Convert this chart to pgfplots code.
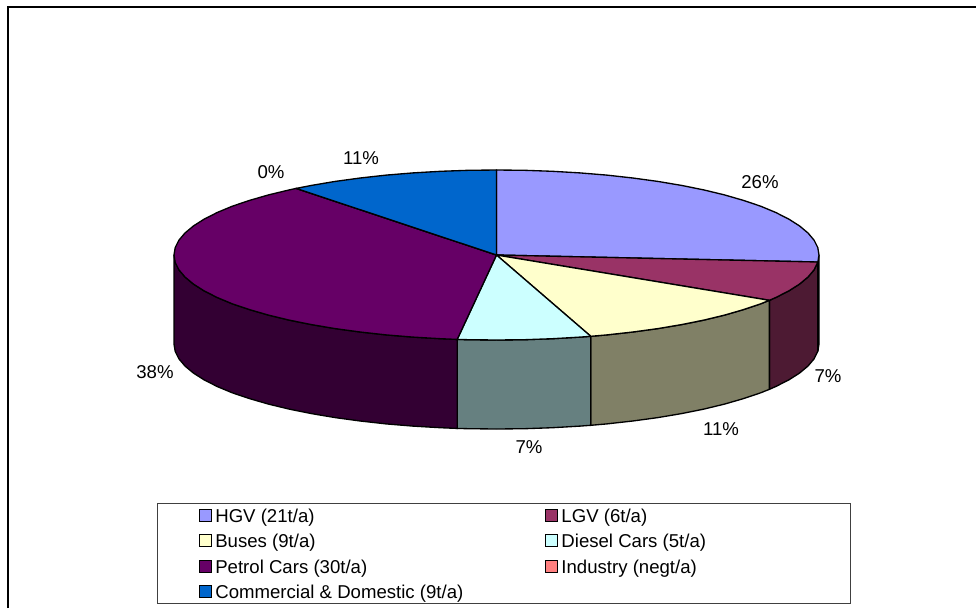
\documentclass[border=0pt]{standalone}
\usepackage{fontspec}
\setmainfont{Liberation Sans}
\usepackage{pgfplots}
\pgfplotsset{compat=1.18}
\definecolor{cHGV}{HTML}{9999FF}
\definecolor{cLGV}{HTML}{993366}
\definecolor{cBus}{HTML}{FFFFCC}
\definecolor{cDie}{HTML}{CCFFFF}
\definecolor{cPet}{HTML}{660066}
\definecolor{cInd}{HTML}{FF8080}
\definecolor{cCom}{HTML}{0066CC}
\definecolor{dHGV}{HTML}{4D4D80}
\definecolor{dLGV}{HTML}{4D1A33}
\definecolor{dBus}{HTML}{808066}
\definecolor{dDie}{HTML}{668080}
\definecolor{dPet}{HTML}{330033}
\newcommand{\lab}{\fontsize{13.95}{16}\selectfont}
\begin{document}
\begin{tikzpicture}
\useasboundingbox (0,0) rectangle (732pt,456pt);
\begin{axis}[
  at={(0,0)}, anchor=south west,
  scale only axis, width=732pt, height=456pt,
  xmin=0, xmax=976, ymin=0, ymax=608, y dir=reverse,
  hide axis, clip=false,
  every axis plot/.append style={line width=1pt, draw=black, mark=none},
  legend columns=2,
  legend cell align=left,
  legend image code/.code={\draw[#1, line width=0.8pt] (0pt,-2.75pt) rectangle (9pt,6.25pt);},
  legend style={
    at={(199/976,1-509/608)}, anchor=north west,
    draw=none, fill=none, inner sep=0pt, row sep=5.7pt,
    font=\lab,
    nodes={inner xsep=2.25pt, inner ysep=0pt, text height=10pt, text depth=3pt},
    /tikz/every even column/.append style={column sep=59.25pt},
  },
]
% frame and legend box
\addplot[forget plot, line width=1.5pt] coordinates {(7.5,608)(7.5,7)(976,7)};
\addplot[forget plot, line width=0.7pt, draw=black!75] coordinates {(157,503)(850,503)(850,603)(157,603)(157,503)};
% side walls
\addplot[forget plot, fill=dHGV] coordinates {(819,255)(817.9,262)(817.9,351)(819,344)(819,255)};
\addplot[forget plot, fill=dLGV] coordinates {(817.9,262)(814.1,269.8)(808,277)(799.5,284.1)(788.8,290.9)(775.8,297.5)(769.4,300.3)(769.4,389.3)(775.8,386.5)(788.8,379.9)(799.5,373.1)(808,366)(814.1,358.8)(817.9,351)(817.9,262)};
\addplot[forget plot, fill=dBus] coordinates {(769.4,300.3)(760.7,303.8)(743.5,309.6)(724.5,315.1)(703.8,320.1)(681.5,324.6)(657.8,328.6)(632.8,332)(606.8,334.9)(590.8,336.3)(590.8,425.3)(606.8,423.9)(632.8,421)(657.8,417.6)(681.5,413.6)(703.8,409.1)(724.5,404.1)(743.5,398.6)(760.7,392.8)(769.4,389.3)(769.4,300.3)};
\addplot[forget plot, fill=dDie] coordinates {(590.8,336.3)(580,337.1)(552.5,338.7)(524.6,339.7)(496.5,340)(468.4,339.7)(457.2,339.4)(457.2,428.4)(468.4,428.7)(496.5,429)(524.6,428.7)(552.5,427.7)(580,426.1)(590.8,425.3)(590.8,336.3)};
\addplot[forget plot, fill=dPet] coordinates {(457.2,339.4)(440.5,338.7)(413,337.1)(386.2,334.9)(360.2,332)(335.2,328.6)(311.5,324.6)(289.2,320.1)(268.5,315.1)(249.5,309.6)(232.3,303.8)(217.2,297.5)(204.2,290.9)(193.5,284.1)(185,277)(178.9,269.8)(175.2,262.4)(174,255)(174,344)(175.2,351.4)(178.9,358.8)(185,366)(193.5,373.1)(204.2,379.9)(217.2,386.5)(232.3,392.8)(249.5,398.6)(268.5,404.1)(289.2,409.1)(311.5,413.6)(335.2,417.6)(360.2,421)(386.2,423.9)(413,426.1)(440.5,427.7)(457.2,428.4)(457.2,339.4)};
% top slices
\addplot[fill=cHGV] coordinates {(496.5,255)(496.5,170)(524.6,170.3)(552.5,171.3)(580,172.9)(606.8,175.1)(632.8,178)(657.8,181.4)(681.5,185.4)(703.8,189.9)(724.5,194.9)(743.5,200.4)(760.7,206.2)(775.8,212.5)(788.8,219.1)(799.5,225.9)(808,233)(814.1,240.2)(817.8,247.6)(819,255)(817.9,262)(496.5,255)};
\addlegendentry{HGV (21t/a)}
\addplot[fill=cLGV] coordinates {(496.5,255)(817.9,262)(814.1,269.8)(808,277)(799.5,284.1)(788.8,290.9)(775.8,297.5)(769.4,300.3)(496.5,255)};
\addlegendentry{LGV (6t/a)}
\addplot[fill=cBus] coordinates {(496.5,255)(769.4,300.3)(760.7,303.8)(743.5,309.6)(724.5,315.1)(703.8,320.1)(681.5,324.6)(657.8,328.6)(632.8,332)(606.8,334.9)(590.8,336.3)(496.5,255)};
\addlegendentry{Buses (9t/a)}
\addplot[fill=cDie] coordinates {(496.5,255)(590.8,336.3)(580,337.1)(552.5,338.7)(524.6,339.7)(496.5,340)(468.4,339.7)(457.2,339.4)(496.5,255)};
\addlegendentry{Diesel Cars (5t/a)}
\addplot[fill=cPet] coordinates {(496.5,255)(457.2,339.4)(440.5,338.7)(413,337.1)(386.2,334.9)(360.2,332)(335.2,328.6)(311.5,324.6)(289.2,320.1)(268.5,315.1)(249.5,309.6)(232.3,303.8)(217.2,297.5)(204.2,290.9)(193.5,284.1)(185,277)(178.9,269.8)(175.2,262.4)(174,255)(175.2,247.6)(178.9,240.2)(185,233)(193.5,225.9)(204.2,219.1)(217.2,212.5)(232.3,206.2)(249.5,200.4)(268.5,194.9)(289.2,189.9)(296.2,188.4)(496.5,255)};
\addlegendentry{Petrol Cars (30t/a)}
\addplot[fill=cInd] coordinates {(496.5,255)(296.2,188.4)(496.5,255)};
\addlegendentry{Industry (negt/a)}
\addplot[fill=cCom] coordinates {(496.5,255)(296.2,188.4)(311.5,185.4)(335.2,181.4)(360.2,178)(386.2,175.1)(413,172.9)(440.5,171.3)(468.4,170.3)(496.5,170)(496.5,255)};
\addlegendentry{Commercial \& Domestic (9t/a)}
% percentage labels
\node[font=\lab, text=black, inner sep=0pt] at (axis cs:760,182) {26\%};
\node[font=\lab, text=black, inner sep=0pt] at (axis cs:828,376) {7\%};
\node[font=\lab, text=black, inner sep=0pt] at (axis cs:721,429) {11\%};
\node[font=\lab, text=black, inner sep=0pt] at (axis cs:529,447) {7\%};
\node[font=\lab, text=black, inner sep=0pt] at (axis cs:155,372) {38\%};
\node[font=\lab, text=black, inner sep=0pt] at (axis cs:271,172) {0\%};
\node[font=\lab, text=black, inner sep=0pt] at (axis cs:361,158) {11\%};
\end{axis}
\end{tikzpicture}
\end{document}
